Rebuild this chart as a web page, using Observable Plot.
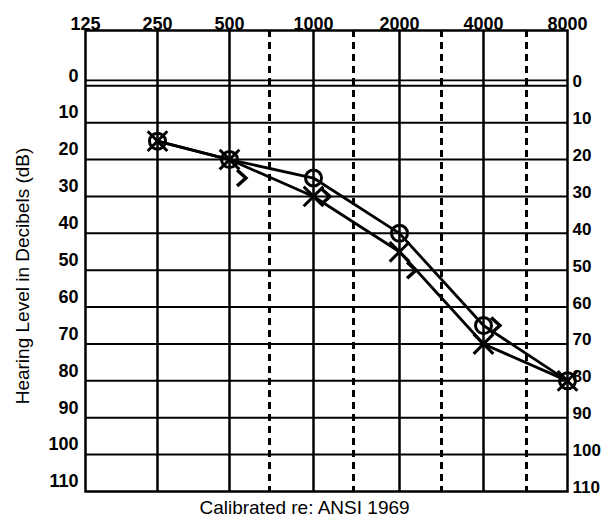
<!DOCTYPE html>
<html>
<head>
<meta charset="utf-8">
<script src="https://cdn.jsdelivr.net/npm/d3@7"></script>
<script src="https://cdn.jsdelivr.net/npm/@observablehq/plot@0.6"></script>
<style>
  html, body { margin: 0; padding: 0; background: #fff; }
  #chart svg { display: block; }
</style>
</head>
<body>
<div id="chart"></div>
<script>
// ---- Data ----
const frequencies = [125, 250, 500, 1000, 2000, 4000, 8000];      // top tick labels (Hz)
const solidFrequencies = [250, 500, 1000, 2000, 4000];            // solid vertical lines
const midFrequencies = [750, 1500, 3000, 6000];                   // dashed vertical lines
const dbTicks = [0, 10, 20, 30, 40, 50, 60, 70, 80, 90, 100, 110]; // side tick labels (dB)
const gridDb = [0, 10, 20, 30, 40, 50, 60, 70, 80, 90, 100];      // horizontal grid lines
const referenceDb = [-1.5];                                        // second line of the doubled zero line

const airFrequencies = [250, 500, 1000, 2000, 4000, 8000];
const rightAirDb = [15, 20, 25, 40, 65, 80];   // O symbols
const leftAirDb  = [15, 20, 30, 45, 70, 80];   // X symbols

const boneFrequencies = [500, 1000, 2000, 4000];
const boneDb = [25, 30, 50, 65];               // ">" symbols

const yLabel = "Hearing Level in Decibels (dB)";
const caption = "Calibrated re: ANSI 1969";

// ---- Tables built from the arrays ----
const rightAir = airFrequencies.map((f, i) => ({freq: f, db: rightAirDb[i]}));
const leftAir = airFrequencies.map((f, i) => ({freq: f, db: leftAirDb[i]}));
const bone = boneFrequencies.map((f, i) => ({freq: f, db: boneDb[i]}));

// piecewise log scale following the printed (slightly uneven) form
const xDomain = [125, 250, 500, 750, 1000, 1500, 2000, 3000, 4000, 6000, 8000];
const xRange  = [85, 157, 229, 269, 313, 353, 399, 441, 483, 526, 567];

// custom ">" symbol
const chevron = {
  draw(context, size) {
    const r = Math.sqrt(size / Math.PI);
    context.moveTo(-r * 0.55, -r);
    context.lineTo(r * 0.55, 0);
    context.lineTo(-r * 0.55, r);
  }
};

const font = "'Liberation Sans', Arial, Helvetica, sans-serif";

const chart = Plot.plot({
  width: 602,
  height: 522,
  marginTop: 30,
  marginBottom: 31,
  marginLeft: 85,
  marginRight: 35,
  style: {fontFamily: font, background: "#fff", color: "#000"},
  x: {type: "log", domain: xDomain, range: xRange, axis: null},
  y: {domain: [-15, 110], range: [30, 491], axis: null},
  marks: [
    Plot.ruleY(gridDb, {y: d => d, stroke: "#000", strokeWidth: 2}),
    Plot.ruleY(referenceDb, {y: d => d, stroke: "#000", strokeWidth: 1.8}),
    Plot.ruleX(solidFrequencies, {x: d => d, stroke: "#000", strokeWidth: 2.5}),
    Plot.ruleX(midFrequencies, {x: d => d, stroke: "#000", strokeWidth: 3, strokeDasharray: "7,5"}),
    Plot.frame({stroke: "#000", strokeWidth: 2.5}),

    // air conduction curves
    Plot.line(rightAir, {x: "freq", y: "db", stroke: "#000", strokeWidth: 2.8}),
    Plot.line(leftAir, {x: "freq", y: "db", stroke: "#000", strokeWidth: 2.8}),
    Plot.dot(rightAir, {x: "freq", y: "db", symbol: "circle", r: 8, stroke: "#000", strokeWidth: 3, fill: "none"}),
    Plot.dot(leftAir, {x: "freq", y: "db", symbol: "times", r: 9, stroke: "#000", strokeWidth: 3}),
    // bone conduction
    Plot.dot(bone, {x: "freq", y: "db", symbol: chevron, r: 8, dx: 12, stroke: "#000", strokeWidth: 3.5, fill: "none"}),

    // tick labels
    Plot.text(frequencies, {x: d => d, text: d => String(d), frameAnchor: "top", lineAnchor: "bottom", dy: -1,
      fontSize: 18, fontWeight: "bold", fill: "#000"}),
    Plot.text(dbTicks, {y: d => d, text: d => String(d), frameAnchor: "left", textAnchor: "end", dx: -7, dy: -10,
      fontSize: 18, fontWeight: "bold", fill: "#000"}),
    Plot.text(dbTicks, {y: d => d, text: d => String(d), frameAnchor: "right", textAnchor: "start", dx: 5, dy: -4,
      fontSize: 17, fontWeight: "bold", fill: "#000"}),

    // axis title and caption
    Plot.text([yLabel], {frameAnchor: "left", textAnchor: "middle", rotate: -90, dx: -63, dy: 15, fontSize: 19, fill: "#000"}),
    Plot.text([caption], {frameAnchor: "bottom", lineAnchor: "bottom", dx: -22, dy: 22, fontSize: 19, fill: "#000"})
  ]
});

document.getElementById("chart").appendChild(chart);
</script>
</body>
</html>
